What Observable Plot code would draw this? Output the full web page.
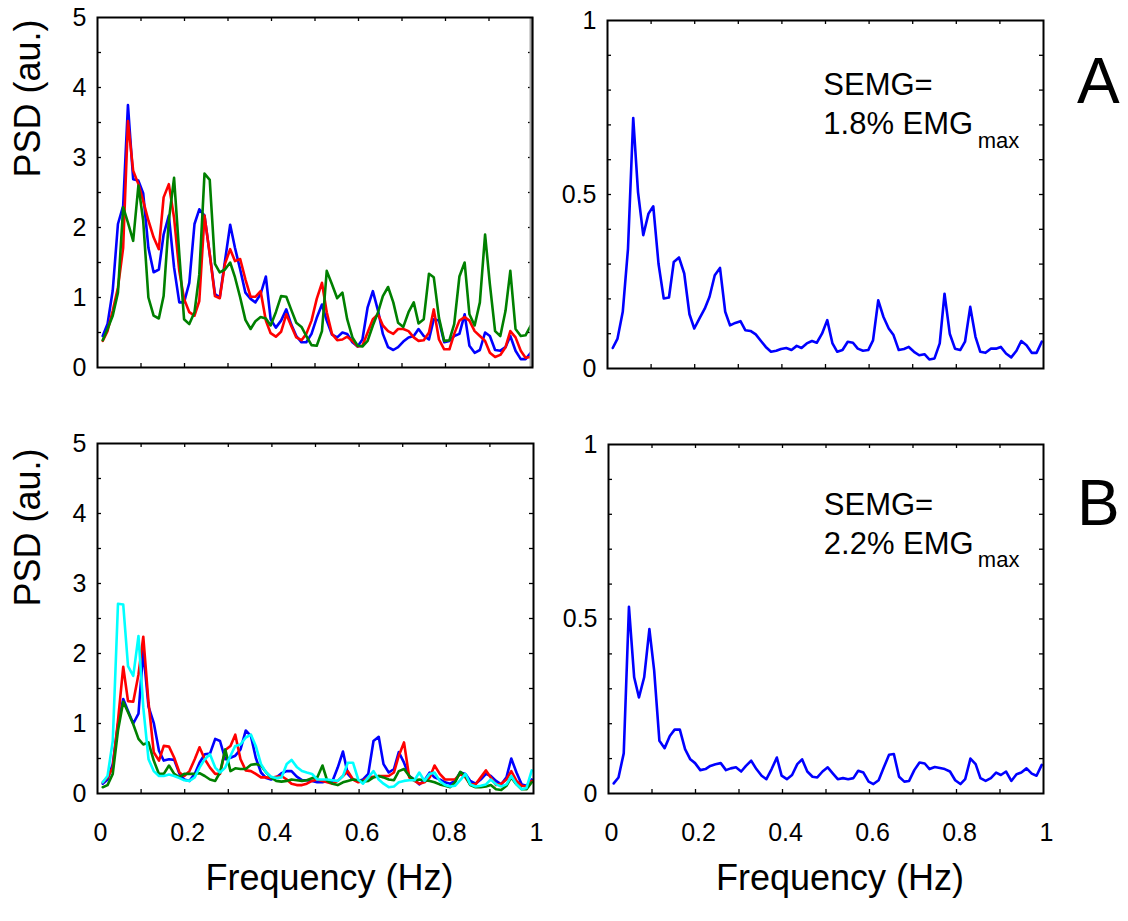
<!DOCTYPE html>
<html>
<head>
<meta charset="utf-8">
<script src="https://cdn.jsdelivr.net/npm/d3@7"></script>
<script src="https://cdn.jsdelivr.net/npm/@observablehq/plot@0.6"></script>
<style>
  body { margin: 0; background: #fff; }
  #wrap { position: relative; width: 1128px; height: 921px; overflow: hidden; background: #fff;
          font-family: "Liberation Sans", Arial, sans-serif; color: #000; }
  .panel { position: absolute; }
  .letter { position: absolute; font-size: 64px; line-height: 64px; color: #000; }
</style>
</head>
<body>
<div id="wrap">
  <div class="panel" id="tl" style="left:0px;top:0px;width:560px;height:420px"></div>
  <div class="panel" id="tr" style="left:560px;top:0px;width:520px;height:420px"></div>
  <div class="panel" id="bl" style="left:0px;top:420px;width:560px;height:501px"></div>
  <div class="panel" id="br" style="left:560px;top:420px;width:520px;height:501px"></div>
  <div class="letter" style="left:1077px;top:49px">A</div>
  <div class="letter" style="left:1077px;top:471px">B</div>
</div>
<script>
// ---------- data ----------
const freq = [0.012,0.023,0.035,0.047,0.059,0.070,0.082,0.094,0.105,0.117,
  0.129,0.141,0.152,0.164,0.176,0.188,0.199,0.211,0.223,0.234,
  0.246,0.258,0.270,0.281,0.293,0.305,0.316,0.328,0.340,0.352,
  0.363,0.375,0.387,0.398,0.410,0.422,0.434,0.445,0.457,0.469,
  0.480,0.492,0.504,0.516,0.527,0.539,0.551,0.563,0.574,0.586,
  0.598,0.609,0.621,0.633,0.645,0.656,0.668,0.680,0.691,0.703,
  0.715,0.727,0.738,0.750,0.762,0.773,0.785,0.797,0.809,0.820,
  0.832,0.844,0.855,0.867,0.879,0.891,0.902,0.914,0.926,0.938,
  0.949,0.961,0.973,0.984,0.996];

// Panel A, left (PSD, au.)
const aBlue = [0.45,0.62,1.10,2.05,2.31,3.75,2.69,2.67,2.49,1.71,
  1.36,1.40,1.90,2.17,1.43,0.93,0.93,1.21,2.05,2.26,
  2.17,1.62,1.05,1.00,1.52,2.04,1.71,1.40,1.07,0.98,
  0.93,1.05,1.30,0.69,0.57,0.67,0.83,0.62,0.45,0.36,
  0.36,0.48,0.71,0.90,0.67,0.47,0.43,0.50,0.48,0.36,
  0.30,0.40,0.86,1.09,0.81,0.48,0.29,0.25,0.29,0.37,
  0.43,0.45,0.55,0.45,0.40,0.69,0.67,0.36,0.38,0.45,
  0.48,0.76,0.31,0.21,0.25,0.50,0.45,0.25,0.24,0.29,
  0.45,0.24,0.12,0.12,0.21];
const aRed = [0.38,0.52,0.81,1.14,1.71,3.52,2.81,2.62,2.38,2.10,
  1.86,1.69,2.43,2.62,2.14,1.38,0.98,0.79,0.74,0.95,
  2.17,1.62,1.02,0.99,1.48,1.69,1.52,1.55,1.26,1.01,
  1.01,1.09,0.67,0.49,0.44,0.51,0.76,0.60,0.43,0.39,
  0.48,0.67,0.98,1.21,0.79,0.48,0.39,0.40,0.44,0.38,
  0.30,0.31,0.50,0.69,0.76,0.60,0.52,0.48,0.55,0.55,
  0.52,0.43,0.38,0.39,0.50,0.83,0.40,0.26,0.26,0.48,
  0.67,0.72,0.67,0.52,0.45,0.38,0.21,0.15,0.18,0.29,
  0.52,0.43,0.24,0.14,0.15];
const aGreen = [0.39,0.55,0.74,1.07,2.29,2.07,1.81,2.60,2.10,1.00,
  0.74,0.70,1.02,2.10,2.71,1.62,0.69,0.62,0.79,1.33,
  2.77,2.68,1.48,1.36,1.40,1.50,1.29,1.00,0.68,0.55,
  0.66,0.72,0.70,0.60,0.79,1.02,1.01,0.83,0.64,0.58,
  0.45,0.32,0.31,0.52,1.38,1.19,0.99,1.07,0.69,0.43,
  0.31,0.30,0.38,0.60,0.79,1.02,1.15,0.93,0.64,0.58,
  0.79,0.93,0.63,0.69,1.34,1.29,0.71,0.38,0.39,0.62,
  1.30,1.50,0.76,0.60,0.93,1.90,1.19,0.52,0.45,0.81,
  1.38,0.55,0.45,0.46,0.60];

// Panel A, right (SEMG = 1.8% EMGmax)
const aSemg = [0.059,0.086,0.163,0.344,0.72,0.507,0.383,0.445,0.466,0.301,
  0.201,0.204,0.306,0.319,0.273,0.156,0.115,0.144,0.172,0.206,
  0.268,0.289,0.163,0.124,0.131,0.136,0.110,0.108,0.098,0.079,
  0.062,0.048,0.051,0.056,0.059,0.053,0.065,0.059,0.072,0.079,
  0.074,0.100,0.139,0.072,0.048,0.053,0.077,0.074,0.057,0.051,
  0.053,0.081,0.196,0.148,0.115,0.096,0.053,0.056,0.062,0.048,
  0.038,0.041,0.026,0.029,0.072,0.215,0.100,0.057,0.053,0.077,
  0.177,0.091,0.048,0.045,0.057,0.057,0.062,0.043,0.032,0.051,
  0.079,0.067,0.045,0.045,0.077];

// Panel B, left (PSD, au.)
const bBlue = [0.14,0.20,0.42,0.99,1.35,1.18,1.00,1.14,2.04,1.24,
  1.01,0.61,0.47,0.49,0.48,0.28,0.20,0.18,0.28,0.44,
  0.56,0.57,0.78,0.75,0.49,0.51,0.54,0.63,0.90,0.82,
  0.51,0.30,0.22,0.20,0.23,0.29,0.32,0.32,0.24,0.19,
  0.19,0.18,0.16,0.16,0.18,0.18,0.37,0.60,0.28,0.20,
  0.18,0.20,0.28,0.75,0.81,0.42,0.30,0.35,0.59,0.44,
  0.25,0.20,0.13,0.19,0.30,0.23,0.20,0.16,0.14,0.18,
  0.30,0.28,0.18,0.14,0.20,0.28,0.25,0.18,0.13,0.23,
  0.50,0.30,0.13,0.11,0.20];
const bRed = [0.16,0.23,0.37,1.04,1.81,1.32,1.31,1.70,2.24,1.30,
  0.59,0.47,0.68,0.67,0.51,0.30,0.25,0.32,0.49,0.66,
  0.49,0.37,0.28,0.28,0.62,0.68,0.84,0.49,0.33,0.32,
  0.28,0.23,0.23,0.22,0.24,0.25,0.20,0.14,0.12,0.12,
  0.14,0.18,0.20,0.18,0.16,0.14,0.18,0.25,0.32,0.20,
  0.16,0.18,0.23,0.24,0.25,0.25,0.25,0.30,0.54,0.73,
  0.23,0.18,0.14,0.16,0.23,0.40,0.28,0.20,0.20,0.20,
  0.28,0.23,0.13,0.13,0.23,0.33,0.23,0.12,0.14,0.20,
  0.32,0.18,0.11,0.10,0.18];
const bGreen = [0.09,0.12,0.28,0.90,1.31,1.16,0.99,0.78,0.70,0.73,
  0.47,0.28,0.28,0.40,0.28,0.23,0.28,0.28,0.28,0.29,
  0.25,0.20,0.18,0.30,0.63,0.32,0.36,0.35,0.35,0.41,
  0.42,0.40,0.30,0.23,0.18,0.17,0.18,0.20,0.19,0.18,
  0.19,0.22,0.23,0.40,0.18,0.14,0.12,0.16,0.18,0.20,
  0.19,0.17,0.18,0.23,0.25,0.23,0.20,0.19,0.32,0.35,
  0.25,0.19,0.20,0.19,0.18,0.16,0.13,0.11,0.09,0.16,
  0.31,0.25,0.12,0.09,0.09,0.10,0.12,0.06,0.05,0.11,
  0.23,0.13,0.06,0.06,0.16];
const bCyan = [0.16,0.25,0.75,2.71,2.70,1.82,1.68,2.25,1.23,0.49,
  0.32,0.25,0.25,0.27,0.25,0.22,0.19,0.18,0.23,0.37,
  0.49,0.56,0.37,0.30,0.37,0.54,0.68,0.70,0.80,0.84,
  0.68,0.42,0.30,0.24,0.22,0.23,0.42,0.48,0.38,0.32,
  0.30,0.28,0.20,0.20,0.20,0.19,0.18,0.25,0.44,0.44,
  0.20,0.14,0.23,0.32,0.20,0.14,0.09,0.10,0.16,0.18,
  0.19,0.19,0.30,0.18,0.28,0.30,0.18,0.12,0.10,0.11,
  0.19,0.28,0.13,0.10,0.11,0.13,0.20,0.13,0.10,0.13,
  0.25,0.13,0.06,0.08,0.33];

// Panel B, right (SEMG = 2.2% EMGmax)
const bSemg = [0.029,0.046,0.115,0.535,0.333,0.275,0.333,0.471,0.352,0.151,
  0.130,0.165,0.183,0.183,0.127,0.098,0.087,0.067,0.070,0.079,
  0.084,0.087,0.067,0.072,0.075,0.063,0.079,0.094,0.070,0.051,
  0.041,0.070,0.103,0.051,0.041,0.053,0.084,0.098,0.063,0.048,
  0.046,0.063,0.075,0.057,0.041,0.044,0.041,0.044,0.065,0.060,
  0.034,0.027,0.038,0.075,0.111,0.113,0.048,0.034,0.036,0.067,
  0.089,0.086,0.070,0.076,0.073,0.070,0.063,0.038,0.027,0.041,
  0.100,0.084,0.044,0.036,0.044,0.060,0.053,0.063,0.036,0.055,
  0.060,0.072,0.057,0.051,0.082];

// ticks
const xTickLabels = [0, 0.2, 0.4, 0.6, 0.8, 1];
const xMinorTicks = [0.1, 0.2, 0.3, 0.4, 0.5, 0.6, 0.7, 0.8, 0.9];
const psdTickLabels = [0, 1, 2, 3, 4, 5];
const psdMinorTicks = [0.5, 1, 1.5, 2, 2.5, 3, 3.5, 4, 4.5];
const semgTickLabels = [0, 0.5, 1];
const semgMinorTicks = [0.1, 0.2, 0.3, 0.4, 0.5, 0.6, 0.7, 0.8, 0.9];

const BLUE = "#0000ff", RED = "#ff0000", GREEN = "#008000", CYAN = "#00ffff";
const FONT = '"Liberation Sans", Arial, Helvetica, sans-serif';
const fmt = d => String(d);

function makePanel(o) {
  const fh = o.height - o.mt - o.mb;
  const fw = o.width - o.ml - o.mr;
  const marks = [];
  o.series.forEach((s, k) => {
    marks.push(Plot.line(s, {x: (d, i) => freq[i], y: d => d, stroke: o.colors[k], strokeWidth: 2.6}));
  });
  const tk = {stroke: "black", strokeWidth: 1.3};
  marks.push(Plot.tickX(xMinorTicks, {x: d => d, insetTop: fh - 4, ...tk}));
  marks.push(Plot.tickX(xMinorTicks, {x: d => d, insetBottom: fh - 4, ...tk}));
  marks.push(Plot.tickY(o.yMinor, {y: d => d, insetRight: fw - 4, ...tk}));
  marks.push(Plot.tickY(o.yMinor, {y: d => d, insetLeft: fw - 4, ...tk}));
  if (o.grayEdge) {
    marks.push(Plot.ruleX([1], {stroke: "#a8a8a8", strokeWidth: 4, dx: -1}));
  }
  marks.push(Plot.frame({stroke: "black", strokeWidth: 2}));
  marks.push(Plot.axisY(o.yLabels, {anchor: "left", tickSize: 0, tickPadding: 11, fontSize: 25, label: null, tickFormat: fmt}));
  if (o.showX) {
    marks.push(Plot.axisX(xTickLabels, {anchor: "bottom", tickSize: 0, tickPadding: 30, fontSize: 25, label: null, tickFormat: fmt, dx: 3}));
    marks.push(Plot.text(["Frequency (Hz)"], {frameAnchor: "bottom", dx: 14, dy: 96, fontSize: 36}));
  }
  if (o.psd) {
    marks.push(Plot.text(["PSD (au.)"], {frameAnchor: "left", rotate: -90, dx: -69, dy: o.psdDy, fontSize: 36}));
  }
  if (o.notes) {
    o.notes.forEach(n => {
      marks.push(Plot.text([n.t], {x: () => n.x, y: () => n.y, textAnchor: "start", fontSize: n.size}));
    });
  }
  const svg = Plot.plot({
    width: o.width, height: o.height,
    marginLeft: o.ml, marginRight: o.mr, marginTop: o.mt, marginBottom: o.mb,
    x: {domain: [0, 1], axis: null},
    y: {domain: o.yDomain, axis: null},
    style: {fontFamily: FONT, fontSize: "25px", background: "transparent", color: "black", overflow: "visible"},
    marks
  });
  document.getElementById(o.id).appendChild(svg);
}

makePanel({id: "tl", width: 560, height: 420, ml: 97, mr: 28, mt: 17, mb: 53,
  series: [aBlue, aRed, aGreen], colors: [BLUE, RED, GREEN],
  yDomain: [0, 5], yLabels: psdTickLabels, yMinor: psdMinorTicks,
  showX: false, psd: true, psdDy: -15, grayEdge: true});

makePanel({id: "tr", width: 520, height: 420, ml: 47, mr: 37, mt: 20, mb: 52,
  series: [aSemg], colors: [BLUE],
  yDomain: [0, 1], yLabels: semgTickLabels, yMinor: semgMinorTicks,
  showX: false, psd: false,
  notes: [{t: "SEMG=", x: 0.495, y: 0.813, size: 31},
          {t: "1.8% EMG", x: 0.495, y: 0.701, size: 31},
          {t: "max", x: 0.849, y: 0.655, size: 22}]});

makePanel({id: "bl", width: 560, height: 501, ml: 97, mr: 27, mt: 23, mb: 128,
  series: [bBlue, bRed, bGreen, bCyan], colors: [BLUE, RED, GREEN, CYAN],
  yDomain: [0, 5], yLabels: psdTickLabels, yMinor: psdMinorTicks,
  showX: true, psd: true, psdDy: -12});

makePanel({id: "br", width: 520, height: 501, ml: 48, mr: 37, mt: 24, mb: 128,
  series: [bSemg], colors: [BLUE],
  yDomain: [0, 1], yLabels: semgTickLabels, yMinor: semgMinorTicks,
  showX: true, psd: false,
  notes: [{t: "SEMG=", x: 0.495, y: 0.825, size: 31},
          {t: "2.2% EMG", x: 0.495, y: 0.716, size: 31},
          {t: "max", x: 0.849, y: 0.670, size: 22}]});
</script>
</body>
</html>
